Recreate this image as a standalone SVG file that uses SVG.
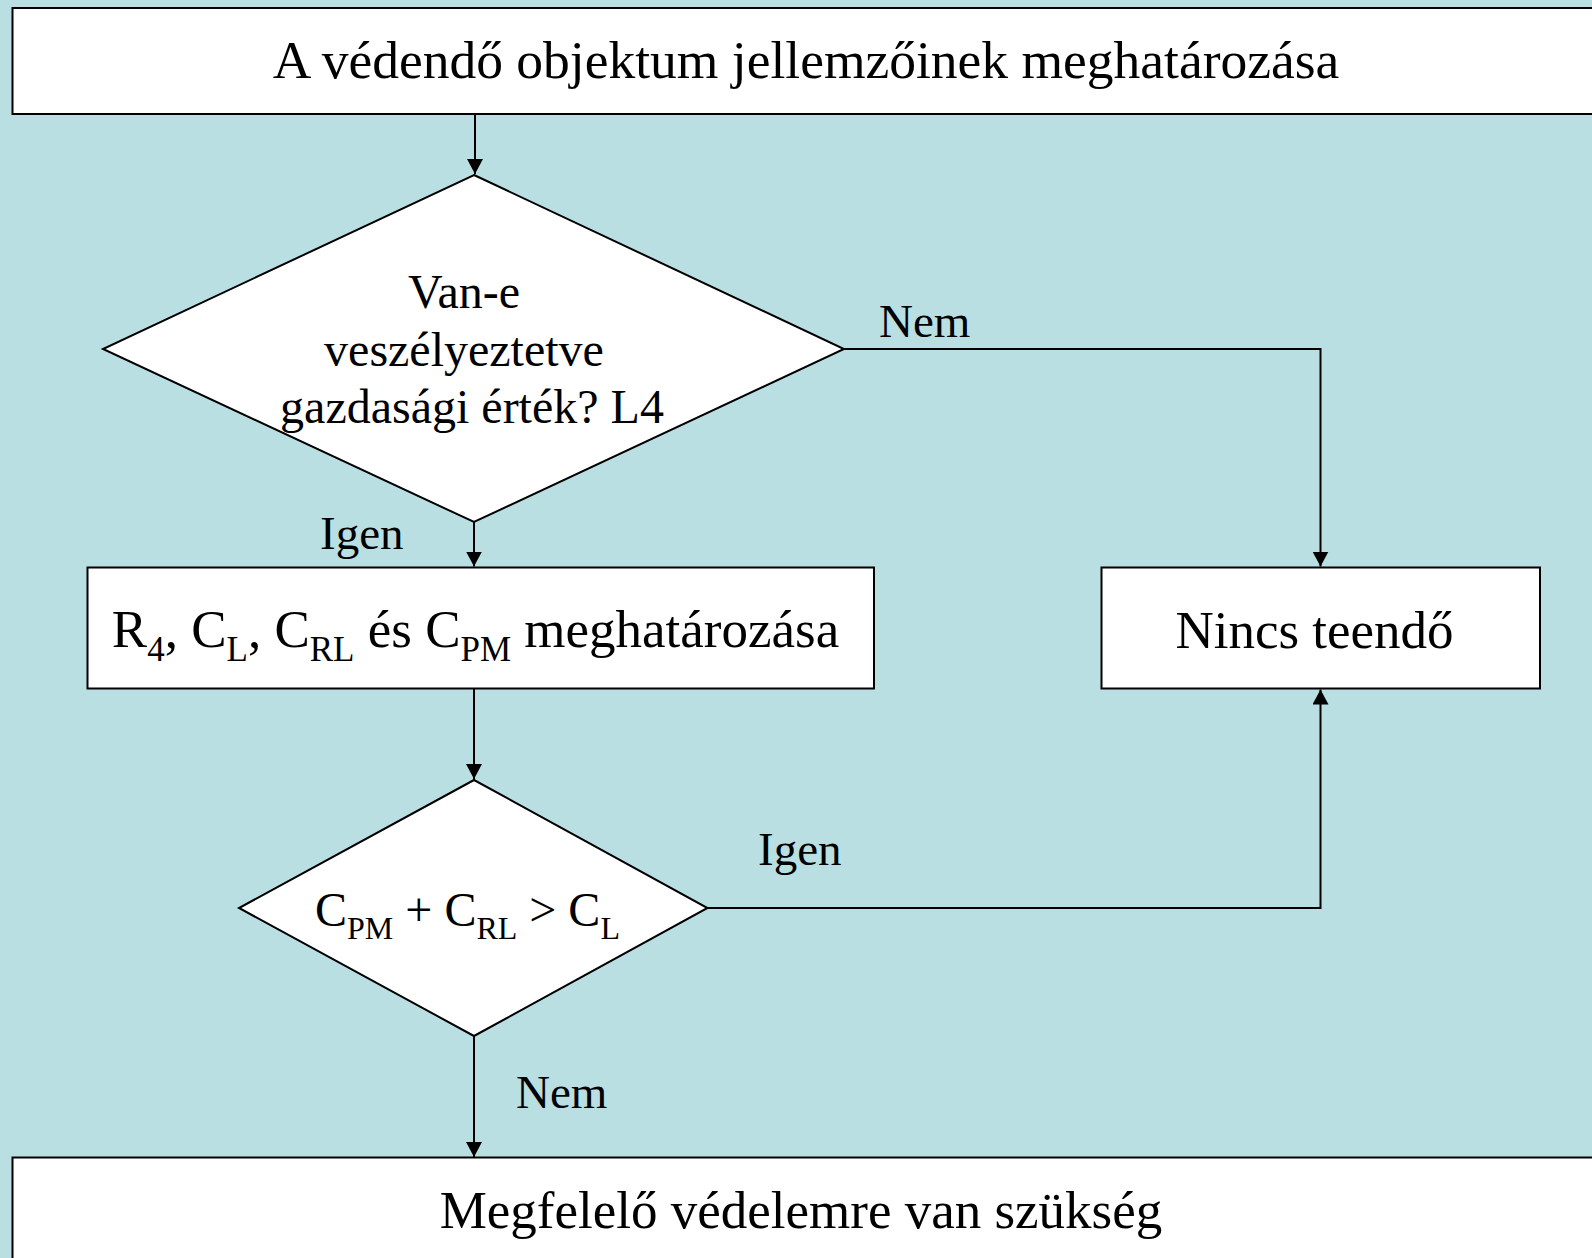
<svg xmlns="http://www.w3.org/2000/svg" width="1592" height="1258" viewBox="0 0 1592 1258">
  <style>
    .shape { fill: #ffffff; stroke: #000000; stroke-width: 2; }
    .wire { fill: none; stroke: #000000; stroke-width: 2; }
    .t { font-family: "Liberation Serif", "Times New Roman", serif; fill: #000000; }
    .main { font-size: 53px; }
    .head { font-size: 53.5px; }
    .cond { font-size: 48px; }
    .lbl { font-size: 47px; }
    .sub { font-size: 35px; }
    .sub-s { font-size: 32px; }
  </style>
  <defs>
    <marker id="arrow" markerUnits="userSpaceOnUse" markerWidth="16" markerHeight="16" refX="15" refY="8" orient="auto">
      <path d="M0,0 L15,8 L0,16 Z" fill="#000000"/>
    </marker>
  </defs>

  <!-- background -->
  <rect x="0" y="0" width="1592" height="1258" fill="#BADFE2"/>

  <!-- connectors -->
  <g id="connectors">
    <path class="wire" d="M475,114 L475,174" marker-end="url(#arrow)"/>
    <path class="wire" d="M844,349 L1320.5,349 L1320.5,566.5" marker-end="url(#arrow)"/>
    <path class="wire" d="M474,522 L474,566.5" marker-end="url(#arrow)"/>
    <path class="wire" d="M474,688.5 L474,779" marker-end="url(#arrow)"/>
    <path class="wire" d="M707.5,908 L1320.5,908 L1320.5,689.5" marker-end="url(#arrow)"/>
    <path class="wire" d="M474,1036 L474,1157" marker-end="url(#arrow)"/>
    <text class="t lbl" x="879" y="337">Nem</text>
    <text class="t lbl" x="320" y="549">Igen</text>
    <text class="t lbl" x="758" y="865">Igen</text>
    <text class="t lbl" x="516" y="1108">Nem</text>
  </g>

  <!-- start: object characteristics -->
  <g id="node-start">
    <rect class="shape" x="12.5" y="8" width="1600" height="106"/>
    <text class="t head" x="806" y="78" text-anchor="middle">A védendő objektum jellemzőinek meghatározása</text>
  </g>

  <!-- decision: economic value at risk -->
  <g id="node-decision-l4">
    <polygon class="shape" points="474,175 844,349 474,522 103,349"/>
    <text class="t cond" text-anchor="middle">
      <tspan x="470" y="308">Van-e</tspan>
      <tspan x="470" y="365.5">veszélyeztetve</tspan>
      <tspan x="472" y="423">gazdasági érték? L4</tspan>
    </text>
  </g>

  <!-- process: determine R4, CL, CRL, CPM -->
  <g id="node-determine">
    <rect class="shape" x="87.5" y="567.5" width="786.5" height="121"/>
    <text class="t main" x="475.5" y="647" text-anchor="middle">R<tspan class="sub" dy="14">4</tspan><tspan dy="-14">, C</tspan><tspan class="sub" dy="14">L</tspan><tspan dy="-14">, C</tspan><tspan class="sub" dy="14">RL</tspan><tspan dy="-14"> és C</tspan><tspan class="sub" dy="14">PM</tspan><tspan dy="-14"> meghatározása</tspan></text>
  </g>

  <!-- terminal: nothing to do -->
  <g id="node-nothing">
    <rect class="shape" x="1101.5" y="567.5" width="438.5" height="121"/>
    <text class="t main" x="1314.5" y="648" text-anchor="middle">Nincs teendő</text>
  </g>

  <!-- decision: cost comparison -->
  <g id="node-decision-cost">
    <polygon class="shape" points="474,780 707.5,908 474,1036 239,908"/>
    <text class="t cond" x="467.5" y="925.5" text-anchor="middle">C<tspan class="sub-s" dy="13">PM</tspan><tspan dy="-13"> + C</tspan><tspan class="sub-s" dy="13">RL</tspan><tspan dy="-13"> &gt; C</tspan><tspan class="sub-s" dy="13">L</tspan></text>
  </g>

  <!-- terminal: protection needed -->
  <g id="node-protection">
    <rect class="shape" x="12.5" y="1157.5" width="1600" height="120"/>
    <text class="t main" x="801" y="1228" text-anchor="middle">Megfelelő védelemre van szükség</text>
  </g>
</svg>
